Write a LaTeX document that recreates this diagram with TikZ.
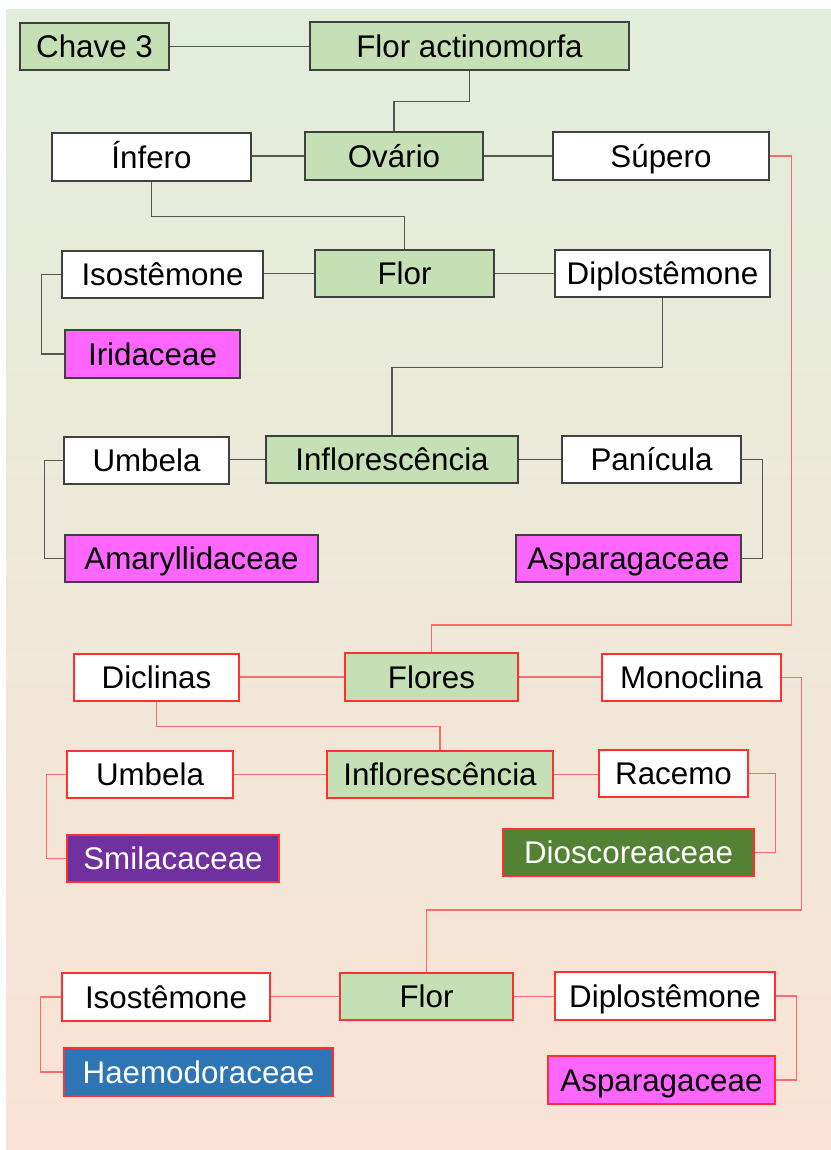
\documentclass[tikz,border=0pt]{standalone}
\usepackage{fontspec}
\setmainfont{Liberation Sans}
\usetikzlibrary{calc}

\definecolor{bgtop}{HTML}{E2EEDA}
\definecolor{bgbot}{HTML}{FAE3D6}
\definecolor{leaf}{HTML}{C5E0B4}
\definecolor{pinkish}{HTML}{FF66FF}
\definecolor{smilax}{HTML}{7030A0}
\definecolor{yam}{HTML}{548235}
\definecolor{bloodroot}{HTML}{2E75B6}
\definecolor{edgegray}{HTML}{404040}
\definecolor{linegray}{HTML}{555555}
\definecolor{edgered}{HTML}{FF3030}
\definecolor{linered}{HTML}{FF6A6A}

\tikzset{
  wd/.style={minimum width=#1*0.75pt},
  ht/.style={minimum height=#1*0.75pt},
  keybox/.style={rectangle, inner sep=0pt, line width=1pt, anchor=center,
    font=\fontsize{23.5}{28}\selectfont, text height=16.8pt, text depth=0pt},
  gbox/.style={keybox, draw=edgegray, fill=leaf},
  wbox/.style={keybox, draw=edgegray, fill=white},
  pbox/.style={keybox, draw=edgegray, fill=pinkish},
  rgbox/.style={keybox, draw=edgered, fill=leaf},
  rwbox/.style={keybox, draw=edgered, fill=white},
  rpbox/.style={keybox, draw=edgered, fill=pinkish},
  rdark/.style={keybox, draw=edgered, fill=#1, text=white},
  gline/.style={draw=linegray, line width=1pt},
  rline/.style={draw=linered, line width=1pt},
}

\begin{document}
\begin{tikzpicture}[x=0.75pt, y=-0.75pt]
\useasboundingbox (0,0) rectangle (831,1150);
\shade[top color=bgtop, bottom color=bgbot] (6,9) rectangle (831,1150);

% upper key: ovary and flower characters
\node[gbox, wd=149, ht=47] (chave)  at (94.5,46.5)  {Chave 3};
\node[gbox, wd=319, ht=48] (actino) at (469.5,46)   {Flor actinomorfa};
\node[gbox, wd=178, ht=48] (ovario) at (394,156)    {Ovário};
\node[wbox, wd=199, ht=48] (infero) at (151.5,157)  {Ínfero};
\node[wbox, wd=216, ht=48] (supero) at (661,156)    {Súpero};
\node[gbox, wd=179, ht=47] (florA)  at (404.5,273.5) {Flor};
\node[wbox, wd=201, ht=47] (isoA)   at (162.5,274.5) {Isostêmone};
\node[pbox, wd=175, ht=48] (irid)   at (152.5,354)  {Iridaceae};
\node[wbox, wd=215, ht=47] (diploA) at (662.5,273.5) {Diplostêmone};
\node[gbox, wd=252, ht=47] (inflA)  at (392,459.5)  {Inflorescência};
\node[wbox, wd=165, ht=47] (umbA)   at (146.5,460.5) {Umbela};
\node[wbox, wd=179, ht=47] (panic)  at (651.5,459.5) {Panícula};
\node[pbox, wd=253, ht=47] (amar)   at (191.5,558.5) {Amaryllidaceae};
\node[pbox, wd=225, ht=47] (asparA) at (628.5,558.5) {Asparagaceae};

% lower key: superior ovary
\node[rgbox, wd=173, ht=48] (flores) at (431.5,677)   {Flores};
\node[rwbox, wd=165, ht=47] (dicl)   at (156.5,677.5) {Diclinas};
\node[rwbox, wd=179, ht=47] (mono)   at (691.5,677.5) {Monoclina};
\node[rgbox, wd=226, ht=47] (inflB)  at (440,774.5)   {Inflorescência};
\node[rwbox, wd=166, ht=47] (umbB)   at (150,774.5)   {Umbela};
\node[rdark=smilax, wd=212, ht=47] (smil) at (173,858.5) {Smilacaceae};
\node[rwbox, wd=149, ht=47] (racemo) at (673.5,773.5) {Racemo};
\node[rdark=yam, wd=251, ht=47] (diosc) at (628.5,852.5) {Dioscoreaceae};
\node[rgbox, wd=173, ht=47] (florB)  at (426.5,996.5) {Flor};
\node[rwbox, wd=208, ht=48] (isoB)   at (166,997)     {Isostêmone};
\node[rdark=bloodroot, wd=269, ht=48] (haem) at (198.5,1072) {Haemodoraceae};
\node[rwbox, wd=220, ht=48] (diploB) at (665,996)     {Diplostêmone};
\node[rpbox, wd=227, ht=48] (asparB) at (661.5,1080)  {Asparagaceae};

% upper connectors
\draw[gline] (chave.east) -- (chave.east -| actino.west);
\draw[gline] (actino.south) -- ++(0,31) -| (ovario.north);
\draw[gline] (ovario.west) -- (ovario.west -| infero.east);
\draw[gline] (ovario.east) -- (supero.west);
\draw[gline] (infero.south) -- ++(0,35) -| (florA.north);
\draw[gline] (florA.west) -- (florA.west -| isoA.east);
\draw[gline] (florA.east) -- (diploA.west);
\draw[gline] (isoA.west) -- ++(-20,0) |- (irid.west);
\draw[gline] (diploA.south) -- ++(0,70) -| (inflA.north);
\draw[gline] (inflA.west) -- (inflA.west -| umbA.east);
\draw[gline] (inflA.east) -- (panic.west);
\draw[gline] (umbA.west) -- ++(-19,0) |- (amar.west);
\draw[gline] (panic.east) -- ++(21,0) |- (asparA.east);

% lower connectors
\draw[rline] (supero.east) -- ++(22,0) -- ++(0,469) -| (flores.north);
\draw[rline] (flores.west) -- (flores.west -| dicl.east);
\draw[rline] (flores.east) -- (flores.east -| mono.west);
\draw[rline] (dicl.south) -- ++(0,25) -| (inflB.north);
\draw[rline] (inflB.west) -- (umbB.east);
\draw[rline] (inflB.east) -- (inflB.east -| racemo.west);
\draw[rline] (umbB.west) -- ++(-20,0) |- (smil.west);
\draw[rline] (racemo.east) -- ++(27,0) |- (diosc.east);
\draw[rline] (mono.east) -- ++(20,0) -- ++(0,232.5) -| (florB.north);
\draw[rline] (florB.west) -- (florB.west -| isoB.east);
\draw[rline] (florB.east) -- (florB.east -| diploB.west);
\draw[rline] (isoB.west) -- ++(-21,0) |- (haem.west);
\draw[rline] (diploB.east) -- ++(21,0) |- (asparB.east);
\end{tikzpicture}
\end{document}
